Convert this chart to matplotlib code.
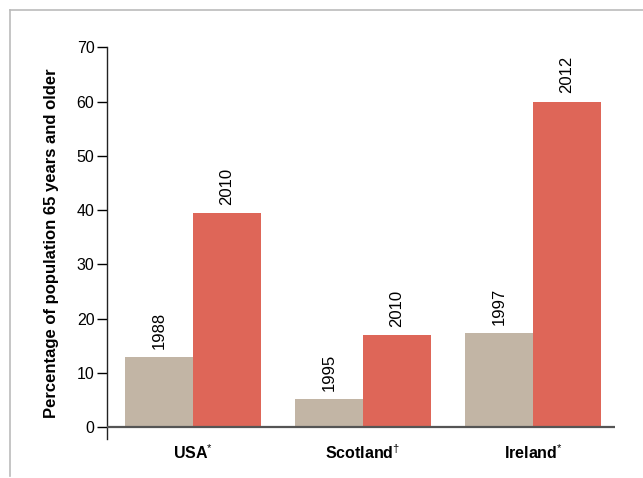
import matplotlib.pyplot as plt
from matplotlib.lines import Line2D
import numpy as np

plt.rcParams['font.family'] = ['Liberation Sans', 'DejaVu Sans']
plt.rcParams['mathtext.fontset'] = 'custom'
plt.rcParams['mathtext.rm'] = 'Liberation Sans'
plt.rcParams['mathtext.bf'] = 'Liberation Sans:bold'

gray = "#C2B5A5"
red = "#DE6658"

countries = [r"USA$^{*}$", r"Scotland$^{†}$", r"Ireland$^{*}$"]
early_years = ["1988", "1995", "1997"]
late_years = ["2010", "2010", "2012"]
early_values = [12.9, 5.2, 17.4]
late_values = [39.4, 17.0, 60.0]

fig = plt.figure(figsize=(6.43, 4.78), dpi=100)
ax = fig.add_axes([0.1664, 0.0816, 0.79, 0.8194])

x = np.arange(len(countries))
w = 0.4
b1 = ax.bar(x - w / 2, early_values, w, color=gray, zorder=2)
b2 = ax.bar(x + w / 2, late_values, w, color=red, zorder=2)

for bars, labels in ((b1, early_years), (b2, late_years)):
    for bar, lab in zip(bars, labels):
        ax.annotate(lab, (bar.get_x() + bar.get_width() / 2, bar.get_height()),
                    xytext=(0, 6), textcoords="offset points", rotation=90,
                    ha="center", va="bottom", fontsize=12)

ax.axhline(0, color="#555555", lw=1.6, zorder=3)
ax.set_xlim(-0.506, 2.482)
ax.set_ylim(-2.15, 70)
ax.set_yticks(range(0, 71, 10))
ax.tick_params(axis="y", length=7, width=1, labelsize=11.5, pad=2)
ax.tick_params(axis="x", length=0, pad=3)
ax.set_xticks(x)
ax.set_xticklabels(countries, fontsize=11.5, fontweight="bold")

for s in ("top", "right", "bottom"):
    ax.spines[s].set_visible(False)
ax.spines["left"].set_color("#222222")
ax.spines["left"].set_linewidth(1)

ax.set_ylabel("Percentage of population 65 years and older", fontsize=12,
              fontweight="bold", labelpad=13)

# light frame around the figure
fig.add_artist(Line2D([10 / 643, 1], [1 - 10 / 478, 1 - 10 / 478], color="#bbbbbb", lw=1.2))
fig.add_artist(Line2D([10 / 643, 10 / 643], [1 - 10 / 478, 1 - 476 / 478], color="#bbbbbb", lw=1.2))

plt.savefig("out.png", dpi=100)
